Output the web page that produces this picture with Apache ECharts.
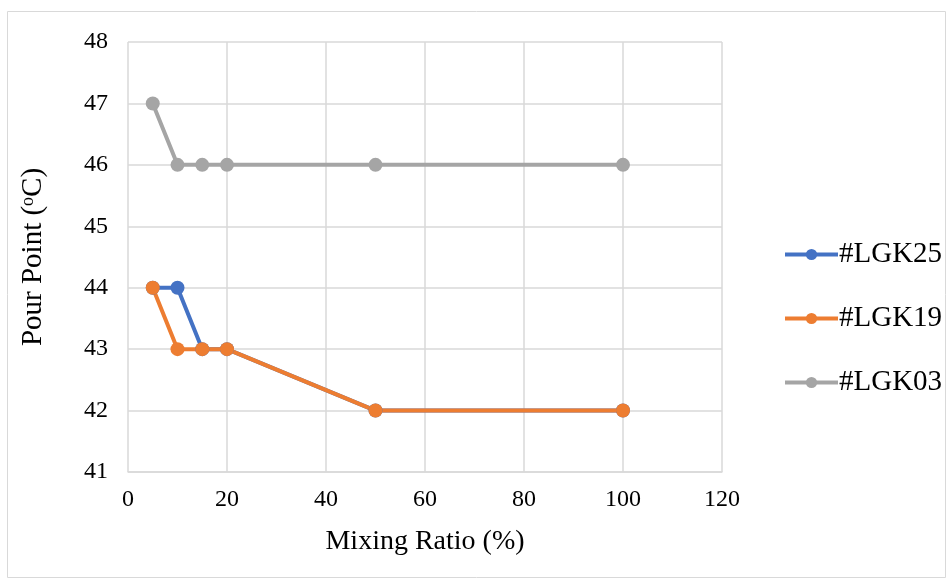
<!DOCTYPE html>
<html><head><meta charset="utf-8">
<script src="https://cdn.jsdelivr.net/npm/echarts@6/dist/echarts.min.js"></script>
<style>html,body{margin:0;padding:0;background:#fff}#c{width:952px;height:581px}</style>
</head><body><div id="c"></div>
<script>
const xValues = [5, 10, 15, 20, 50, 100];
const lgk25 = [44, 44, 43, 43, 42, 42];
const lgk19 = [44, 43, 43, 43, 42, 42];
const lgk03 = [47, 46, 46, 46, 46, 46];
const seriesNames = ['#LGK25', '#LGK19', '#LGK03'];
const colors = ['#4472C4', '#ED7D31', '#A5A5A5'];
const FONT = '"Liberation Serif", "DejaVu Serif", serif';
const pair = arr => xValues.map((x, i) => [x, arr[i]]);
const chart = echarts.init(document.getElementById('c'));
chart.setOption({
  animation: false,
  textStyle: { fontFamily: FONT },
  graphic: [{ type: 'rect', shape: { x: 7.5, y: 11.5, width: 938, height: 566 }, style: { fill: 'none', stroke: '#D9D9D9', lineWidth: 1 }, silent: true }],
  grid: { left: 128, right: 230, top: 42, bottom: 109 },
  legend: {
    orient: 'vertical', left: 783, top: 240, padding: 0, itemGap: 35, itemWidth: 53, itemHeight: 14,
    textStyle: { fontFamily: FONT, fontSize: 29, color: '#000', padding: [0, 0, 0, -4] },
    lineStyle: { width: 4 },
    data: seriesNames
  },
  xAxis: {
    type: 'value', min: 0, max: 120, interval: 20,
    name: 'Mixing Ratio (%)', nameLocation: 'middle', nameGap: 56,
    nameTextStyle: { fontFamily: FONT, fontSize: 28, color: '#000' },
    axisLine: { lineStyle: { color: '#D9D9D9', width: 1.5 } },
    axisTick: { show: false },
    axisLabel: { fontFamily: FONT, fontSize: 24, color: '#000', margin: 16 },
    splitLine: { lineStyle: { color: '#D9D9D9', width: 1.5 } }
  },
  yAxis: {
    type: 'value', min: 41, max: 48, interval: 1,
    name: '{n|Pour Point (}{s|o}{n|C)}', nameLocation: 'middle', nameGap: 80, nameRotate: 90,
    nameTextStyle: { fontFamily: FONT, fontSize: 29, color: '#000',
      rich: { n: { fontFamily: FONT, fontSize: 29, color: '#000' }, s: { fontFamily: FONT, fontSize: 18, color: '#000', verticalAlign: 'top', padding: [0,0,10,0] } } },
    axisLine: { show: false },
    axisTick: { show: false },
    axisLabel: { fontFamily: FONT, fontSize: 24, color: '#000', margin: 20 },
    splitLine: { lineStyle: { color: '#D9D9D9', width: 1.5 } }
  },
  series: [lgk25, lgk19, lgk03].map((arr, i) => ({
    name: seriesNames[i], type: 'line', data: pair(arr),
    symbol: 'circle', symbolSize: 14,
    lineStyle: { color: colors[i], width: 4 },
    itemStyle: { color: colors[i] }
  }))
});
</script></body></html>
